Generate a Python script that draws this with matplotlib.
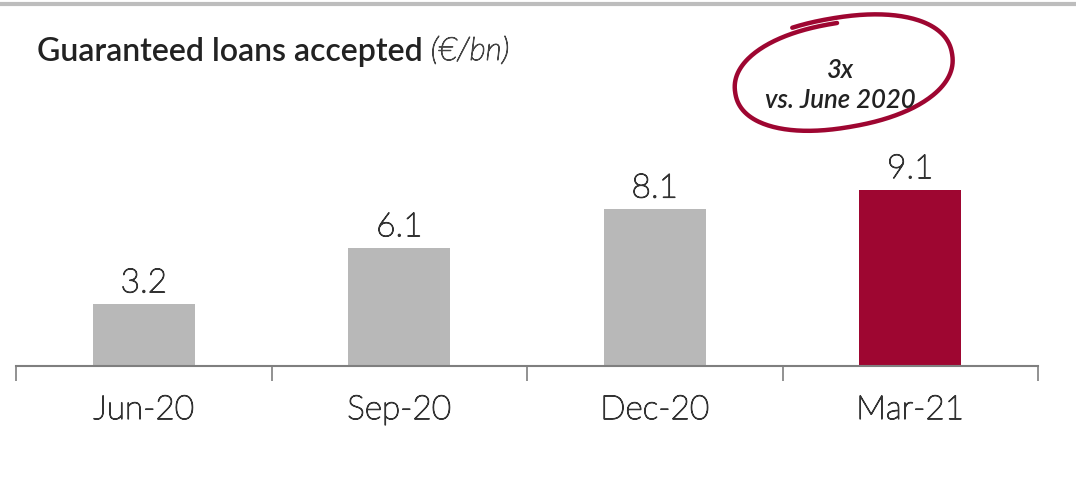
import numpy as np
import matplotlib
matplotlib.use("Agg")
import matplotlib.pyplot as plt
import matplotlib.patheffects as pe

# data
quarters = ["Jun-20", "Sep-20", "Dec-20", "Mar-21"]
loans = [3.2, 6.1, 8.1, 9.1]
bar_colors = ["#b8b8b8", "#b8b8b8", "#b8b8b8", "#9e0631"]

plt.rcParams['font.family'] = ['Lato', 'DejaVu Sans']

W, H = 1076, 481
fig = plt.figure(figsize=(W / 100, H / 100), dpi=100)

txt_col = "#333333"
# thin Lato + a small stroke to get a "light" look
light = [pe.withStroke(linewidth=0.9, foreground=txt_col)]

# main bar axes, placed to match pixel layout
left, right, bottom = 16, 1038, 367
px_per_unit = 19.35
ymax = 15
ax = fig.add_axes([left / W, (H - bottom) / H, (right - left) / W, ymax * px_per_unit / H])
x = np.arange(len(quarters))
ax.bar(x, loans, width=0.4, color=bar_colors)
ax.set_xlim(-0.5, len(quarters) - 0.5)
ax.set_ylim(0, ymax)
for xi, v in zip(x, loans):
    ax.text(xi, v + 0.3, f"{v:.1f}", ha="center", va="bottom", fontsize=24,
            fontweight="light", color=txt_col, path_effects=light)

for s in ["top", "right", "left"]:
    ax.spines[s].set_visible(False)
ax.spines["bottom"].set_color("#7f7f7f")
ax.spines["bottom"].set_linewidth(1.5)
ax.set_yticks([])
ax.set_xticks(np.arange(-0.5, len(quarters), 1.0))
ax.set_xticklabels([])
ax.tick_params(axis="x", length=11, width=1.2, color="#7f7f7f")
for xi, q in zip(x, quarters):
    ax.text(xi, -1.5, q, ha="center", va="top", fontsize=24, fontweight="light",
            color=txt_col, path_effects=light)

# overlay in pixel coords for title, frame line and callout
ov = fig.add_axes([0, 0, 1, 1])
ov.set_xlim(0, W)
ov.set_ylim(H, 0)
ov.axis("off")
ov.plot([0, W], [5, 5], color="#bdbdbd", lw=3)

t = ov.text(37, 61, "Guaranteed loans accepted ", fontsize=23, fontweight="semibold",
            color="#222222", va="baseline")
fig.canvas.draw()
bb = t.get_window_extent()
ov.text(bb.x1, 61, "(€/bn)", fontsize=23, fontstyle="italic", fontweight="light",
        color="#444444", va="baseline",
        path_effects=[pe.withStroke(linewidth=0.8, foreground="#444444")])

# hand-drawn ring, drawn clockwise from the top
cx, cy, a, b, tilt, n = 841, 75, 115, 56, np.deg2rad(10), 2.2
th = np.linspace(np.deg2rad(108), np.deg2rad(108 - 380), 300)
grow = 1.01 - 0.10 * (np.deg2rad(108) - th) / np.deg2rad(380)
c, s = np.cos(th), np.sin(th)
ex = a * grow * np.sign(c) * np.abs(c) ** (2 / n)
ey = b * grow * np.sign(s) * np.abs(s) ** (2 / n)
px = cx + ex * np.cos(tilt) - ey * np.sin(tilt)
py = cy - (ex * np.sin(tilt) + ey * np.cos(tilt))
ov.plot(px, py, color="#9e0631", lw=3.2, solid_capstyle="round")

ov.text(840, 70, "3x", ha="center", va="center", fontsize=18.5, fontstyle="italic",
        fontweight="semibold", color="#222222")
ov.text(840, 100, "vs. June 2020", ha="center", va="center", fontsize=18.5,
        fontstyle="italic", fontweight="semibold", color="#222222")

fig.savefig("out.png", dpi=100)
